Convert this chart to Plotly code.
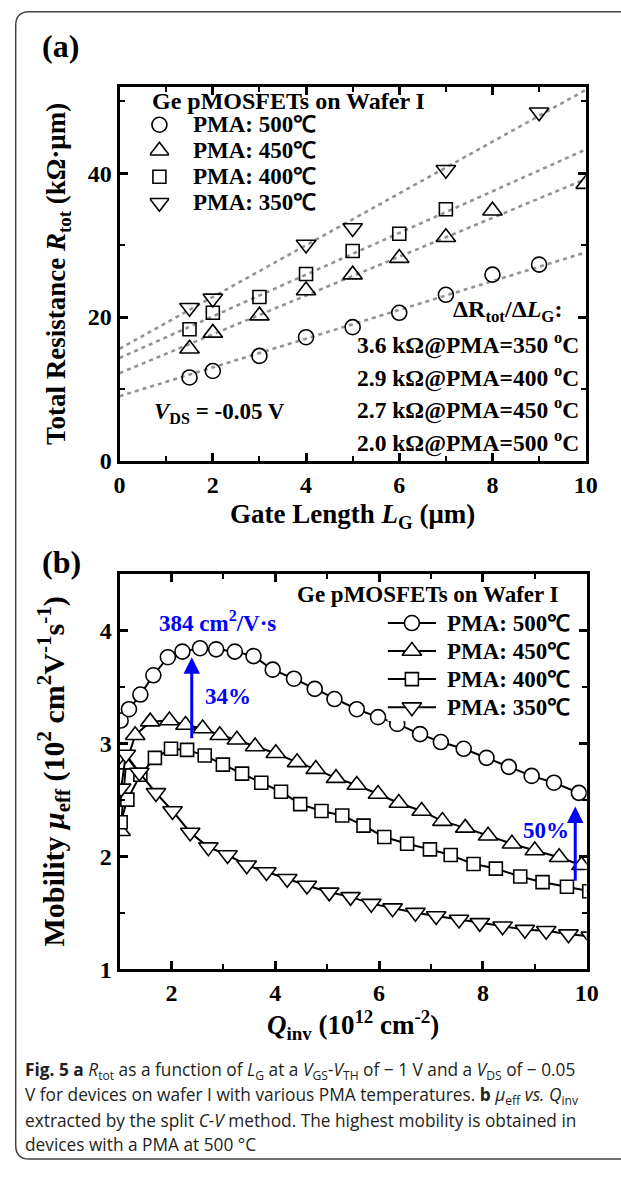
import plotly.graph_objects as go

# ---------------- data ----------------
# (a) total resistance vs gate length, one series per PMA temperature
LG_500 = [1.5, 2, 3, 4, 5, 6, 7, 8, 9]
R_500 = [11.6, 12.5, 14.6, 17.2, 18.6, 20.6, 23.1, 25.9, 27.3]
LG_450 = [1.5, 2, 3, 4, 5, 6, 7, 8, 10]
R_450 = [15.6, 17.8, 20.2, 23.7, 25.9, 28.2, 31.1, 34.8, 38.5]
LG_400 = [1.5, 2, 3, 4, 5, 6, 7]
R_400 = [18.3, 20.6, 22.8, 26.0, 29.2, 31.6, 35.0]
LG_350 = [1.5, 2, 4, 5, 7, 9]
R_350 = [21.3, 22.6, 30.1, 32.4, 40.5, 48.5]

# linear fits: slope dR/dLG (kOhm per um) and intercept, order 350/400/450/500
FIT_TEMPS = ["350", "400", "450", "500"]
FIT_SLOPES = [3.6, 2.9, 2.7, 2.0]
FIT_INTERCEPTS = [15.6, 14.3, 12.2, 9.0]
FIT_LG = [0, 10]

# (b) effective mobility vs inversion charge
Q_500 = [1.02, 1.18, 1.40, 1.65, 1.93, 2.21, 2.55, 2.86, 3.22, 3.58, 3.95, 4.36, 4.76,
         5.14, 5.57, 5.98, 6.35, 6.79, 7.19, 7.63, 8.07, 8.50, 8.94, 9.37, 9.85]
MU_500 = [3.20, 3.30, 3.43, 3.60, 3.76, 3.81, 3.84, 3.83, 3.81, 3.77, 3.65, 3.57, 3.48,
          3.39, 3.30, 3.23, 3.17, 3.08, 3.01, 2.95, 2.87, 2.79, 2.71, 2.65, 2.56]
Q_450 = [1.02, 1.12, 1.30, 1.59, 1.96, 2.27, 2.60, 2.93, 3.26, 3.61, 4.01, 4.42, 4.78,
         5.17, 5.57, 5.98, 6.38, 6.82, 7.22, 7.66, 8.10, 8.56, 9.00, 9.47, 9.90]
MU_450 = [2.22, 2.81, 3.07, 3.19, 3.20, 3.16, 3.13, 3.07, 3.03, 2.97, 2.91, 2.83, 2.77,
          2.69, 2.63, 2.55, 2.47, 2.40, 2.31, 2.25, 2.18, 2.11, 2.05, 1.99, 1.92]
Q_400 = [1.02, 1.15, 1.40, 1.68, 1.99, 2.30, 2.64, 2.99, 3.36, 3.73, 4.11, 4.48, 4.89,
         5.29, 5.70, 6.10, 6.54, 6.98, 7.38, 7.82, 8.25, 8.72, 9.15, 9.62, 10.05]
MU_400 = [2.30, 2.50, 2.72, 2.87, 2.95, 2.94, 2.89, 2.81, 2.73, 2.65, 2.57, 2.46, 2.40,
          2.36, 2.27, 2.17, 2.11, 2.06, 2.01, 1.93, 1.89, 1.82, 1.77, 1.73, 1.69]
Q_350 = [1.03, 1.12, 1.38, 1.70, 2.02, 2.36, 2.71, 3.08, 3.45, 3.83, 4.23, 4.61, 5.04,
         5.45, 5.85, 6.26, 6.70, 7.10, 7.54, 7.94, 8.38, 8.81, 9.22, 9.65, 10.08]
MU_350 = [2.60, 2.90, 2.74, 2.56, 2.40, 2.21, 2.08, 2.01, 1.92, 1.86, 1.80, 1.74, 1.68,
          1.64, 1.58, 1.54, 1.50, 1.47, 1.44, 1.41, 1.38, 1.35, 1.34, 1.31, 1.29]

# improvement arrows in (b): x position, tail value, head value
ARROW_PEAK = (2.39, 3.03, 3.76)
ARROW_HIGHQ = (9.78, 1.77, 2.44)
PEAK_MU_LABEL = "384 cm<sup>2</sup>/V·s"

LEGEND_LABELS = ["PMA: 500℃", "PMA: 450℃", "PMA: 400℃", "PMA: 350℃"]

# ---------------- page geometry ----------------
W, H = 621, 1178


def fx(p):
    return p / W


def fy(p):
    return 1 - p / H


SERIF = "Liberation Serif"
SANS = "Open Sans"
BLUE = "#0000ff"
FIT_GRAY = "#939393"

SYMBOLS = ["circle", "triangle-up", "square", "triangle-down"]
SIZES = [15, 17, 13, 17]

fig = go.Figure()

# (a) fitted lines
for slope, icpt in zip(FIT_SLOPES, FIT_INTERCEPTS):
    fig.add_trace(go.Scatter(
        x=FIT_LG, y=[icpt + slope * v for v in FIT_LG], mode="lines",
        line=dict(color=FIT_GRAY, width=2.6, dash="4px,4px"),
        xaxis="x", yaxis="y", hoverinfo="skip"))

# (a) measured points
for (xs, ys), sym, sz in zip([(LG_500, R_500), (LG_450, R_450), (LG_400, R_400), (LG_350, R_350)],
                             SYMBOLS, SIZES):
    fig.add_trace(go.Scatter(
        x=xs, y=ys, mode="markers",
        marker=dict(symbol=sym + "-open", size=sz, color="black", line=dict(width=1.6)),
        xaxis="x", yaxis="y"))

# (b) mobility curves
for (xs, ys), sym, sz in zip([(Q_500, MU_500), (Q_450, MU_450), (Q_400, MU_400), (Q_350, MU_350)],
                             SYMBOLS, SIZES):
    fig.add_trace(go.Scatter(
        x=xs, y=ys, mode="lines+markers",
        line=dict(color="black", width=2),
        marker=dict(symbol=sym, size=sz, color="white", line=dict(color="black", width=1.6)),
        xaxis="x2", yaxis="y2"))

# legend glyphs, one row per series
for i, (sym, sz) in enumerate(zip(SYMBOLS, SIZES)):
    fig.add_trace(go.Scatter(
        x=[0], y=[i], mode="markers",
        marker=dict(symbol=sym + "-open", size=sz, color="black", line=dict(width=1.6)),
        xaxis="x3", yaxis="y3", hoverinfo="skip"))
    fig.add_trace(go.Scatter(
        x=[-1, 1], y=[i, i], mode="lines", line=dict(color="black", width=2),
        xaxis="x4", yaxis="y4", hoverinfo="skip"))
    fig.add_trace(go.Scatter(
        x=[0], y=[i], mode="markers",
        marker=dict(symbol=sym, size=sz, color="white", line=dict(color="black", width=1.6)),
        xaxis="x4", yaxis="y4", hoverinfo="skip"))

tickfont = dict(family=SERIF, size=24, color="black", weight="bold")


def titlefont(size=27):
    return dict(family=SERIF, size=size, color="black", weight="bold")


def axis(**kw):
    d = dict(showline=True, linewidth=3, linecolor="black", mirror="allticks",
             ticks="inside", ticklen=8, tickwidth=2.5, tickcolor="black",
             showgrid=False, zeroline=False, tickfont=tickfont)
    d.update(kw)
    return d


def minor(dt):
    return dict(dtick=dt, ticks="inside", ticklen=5, tickwidth=2, tickcolor="black", showgrid=False)


# legend row layout
LEG_A_TOP, LEG_A_STEP = 113.0, 26.3
LEG_B_TOP, LEG_B_STEP = 615.8, 28.35

fig.update_layout(
    width=W, height=H, margin=dict(l=0, r=0, t=0, b=0),
    paper_bgcolor="white", plot_bgcolor="white", showlegend=False,
    font=dict(family=SERIF, color="black"),
    xaxis=axis(domain=[fx(117), fx(597)], range=[0, 10], dtick=2, tick0=0, minor=minor(1),
               anchor="y",
               title=dict(text="Gate Length <i>L</i><sub>G</sub> (μm)", font=titlefont(),
                          standoff=8)),
    yaxis=axis(domain=[fy(466), fy(88)], range=[0, 52], dtick=20, tick0=0, minor=minor(10),
               anchor="x",
               title=dict(text="Total Resistance <i>R</i><sub>tot</sub> (kΩ·μm)",
                          font=titlefont(), standoff=15)),
    xaxis2=axis(domain=[fx(117), fx(598)], range=[1, 10], dtick=2, tick0=0, minor=minor(1),
                anchor="y2",
                title=dict(text="<i>Q</i><sub>inv</sub> (10<sup>12</sup> cm<sup>-2</sup>)",
                           font=titlefont(), standoff=6)),
    yaxis2=axis(domain=[fy(980), fy(580)], range=[1, 4.5], dtick=1, tick0=0, minor=minor(0.5),
                anchor="x2",
                title=dict(text="Mobility <i>μ</i><sub>eff</sub> (10<sup>2</sup> cm<sup>2</sup>"
                                "V<sup>-1</sup>s<sup>-1</sup>)", font=titlefont(30), standoff=27)),
    xaxis3=dict(domain=[fx(148), fx(168)], range=[-1, 1], visible=False, anchor="y3"),
    yaxis3=dict(domain=[fy(LEG_A_TOP + 4 * LEG_A_STEP), fy(LEG_A_TOP)], range=[3.5, -0.5],
                visible=False, anchor="x3"),
    xaxis4=dict(domain=[fx(393), fx(443)], range=[-1, 1], visible=False, anchor="y4"),
    yaxis4=dict(domain=[fy(LEG_B_TOP + 4 * LEG_B_STEP), fy(LEG_B_TOP)], range=[3.5, -0.5],
                visible=False, anchor="x4"),
)

ann = []


def text(x, y, s, size=22, xanchor="left", color="black", family=SERIF, bold=True, **kw):
    f = dict(family=family, size=size, color=color)
    if bold:
        f["weight"] = "bold"
    ann.append(dict(x=fx(x), y=fy(y), xref="paper", yref="paper", text=s, showarrow=False,
                    xanchor=xanchor, yanchor="middle", font=f, **kw))


# panel letters
text(56, 47, "(a)", size=32, xanchor="center")
text(57, 568, "(b)", size=32, xanchor="center")

# (a) legend
text(148, 102, "Ge pMOSFETs on Wafer I", size=24)
for i, lab in enumerate(LEGEND_LABELS):
    text(191, LEG_A_TOP + (i + 0.5) * LEG_A_STEP, lab, size=23)

# (a) slope annotations
text(458, 314, "ΔR<sub>tot</sub>/Δ<i>L</i><sub>G</sub>:", size=24)
for i, (t, s) in enumerate(zip(FIT_TEMPS, FIT_SLOPES)):
    text(592, 347 + i * 33.2, f"{s:.1f} kΩ@PMA={t} <sup>o</sup>C", size=23.5, xanchor="right")
text(220, 418, "<i>V</i><sub>DS</sub> = -0.05 V", size=23, xanchor="center")

# (b) legend
text(572, 601, "Ge pMOSFETs on Wafer I", size=23, xanchor="right")
for i, lab in enumerate(LEGEND_LABELS):
    text(452, LEG_B_TOP + (i + 0.5) * LEG_B_STEP, lab, size=23)

# (b) arrows and their labels
for xa, tail, head in (ARROW_PEAK, ARROW_HIGHQ):
    ann.append(dict(x=xa, y=head, ax=xa, ay=tail, xref="x2", yref="y2", axref="x2", ayref="y2",
                    text="", showarrow=True, arrowhead=2, arrowsize=1.1, arrowwidth=3,
                    arrowcolor=BLUE, standoff=0, startstandoff=0))
text(218, 628, PEAK_MU_LABEL, size=23, xanchor="center", color=BLUE)
text(229, 704, "34%", size=23, xanchor="center", color=BLUE)
text(556, 840, "50%", size=23, xanchor="center", color=BLUE)

# caption
CAPTION = [
    "<b>Fig. 5</b> <b>a</b> <i>R</i><sub>tot</sub> as a function of <i>L</i><sub>G</sub> at a "
    "<i>V</i><sub>GS</sub>-<i>V</i><sub>TH</sub> of − 1 V and a <i>V</i><sub>DS</sub> of − 0.05",
    "V for devices on wafer I with various PMA temperatures. <b>b</b> <i>μ</i><sub>eff</sub> "
    "<i>vs.</i> <i>Q</i><sub>inv</sub>",
    "extracted by the split <i>C-V</i> method. The highest mobility is obtained in",
    "devices with a PMA at 500 °C",
]
for i, line in enumerate(CAPTION):
    text(17, 1083 + i * 24.8, line, size=17.3, family=SANS, bold=False, color="#231f20")

fig.update_layout(annotations=ann)

# rounded frame around the figure
R = 14
x0, y0, y1, xr = 10, 12, 1172, 650
path = (f"M {fx(xr)},{fy(y0)} L {fx(x0 + R)},{fy(y0)} Q {fx(x0)},{fy(y0)} {fx(x0)},{fy(y0 + R)} "
        f"L {fx(x0)},{fy(y1 - R)} Q {fx(x0)},{fy(y1)} {fx(x0 + R)},{fy(y1)} L {fx(xr)},{fy(y1)}")
fig.add_shape(type="path", path=path, xref="paper", yref="paper",
              line=dict(color="#444444", width=1.5))

fig.write_html("out.html")
